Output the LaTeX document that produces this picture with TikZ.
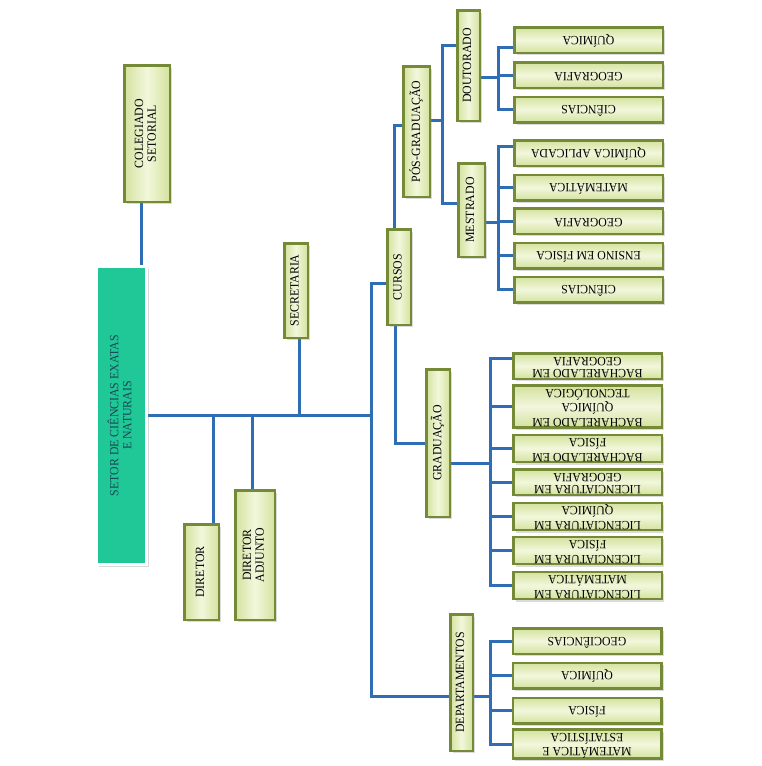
\documentclass[tikz,border=0pt]{standalone}
\usepackage{fontspec}
\setmainfont[FakeStretch=0.94]{Liberation Serif}
\usetikzlibrary{shadows}
\pgfdeclarelayer{bg}
\pgfsetlayers{bg,main}
\definecolor{connc}{HTML}{2F6EB5}
\definecolor{olivec}{HTML}{758A36}
\definecolor{boxA}{HTML}{D4E29E}
\definecolor{boxB}{HTML}{F2F7DC}
\definecolor{mainteal}{HTML}{1FC896}
\definecolor{maintxt}{HTML}{1B4556}
\newcommand{\vtxt}[1]{\rotatebox{90}{\begin{tabular}{@{}c@{}}#1\end{tabular}}}
\newcommand{\utxt}[1]{\rotatebox{180}{\begin{tabular}{@{}c@{}}#1\end{tabular}}}
\tikzset{
  box/.style={draw=olivec, line width=2.5pt, inner sep=0pt,
    font=\fontsize{12.6}{12.6}\selectfont,
    drop shadow={shadow xshift=2.5pt, shadow yshift=-2.5pt, opacity=0.28}},
  vbox/.style={box, left color=boxA, right color=boxA, middle color=boxB},
  leaf/.style={box, top color=boxA, bottom color=boxA, middle color=boxB,
    minimum width=148.5pt, minimum height=25.5pt},
  mainbox/.style={draw=white, line width=3pt, fill=mainteal, inner sep=0pt,
    text=maintxt, font=\fontsize{12.6}{13}\selectfont,
    drop shadow={shadow xshift=2.5pt, shadow yshift=-2.5pt, opacity=0.3}},
  conline/.style={draw=connc, line width=3pt}
}
\begin{document}
\begin{tikzpicture}[x=1pt,y=-1pt]
\useasboundingbox (0,0) rectangle (761,766);
% main boxes
\node[mainbox, minimum width=50pt, minimum height=298pt] (setor) at (121.5,415.5) {\vtxt{SETOR DE CIÊNCIAS EXATAS\\E NATURAIS}};
\node[vbox, minimum width=45.5pt, minimum height=136.5pt] (coleg) at (147,133.5) {\vtxt{COLEGIADO\\SETORIAL}};
\node[vbox, minimum width=34.5pt, minimum height=95.5pt] (diretor) at (201.5,572) {\vtxt{DIRETOR}};
\node[vbox, minimum width=39.5pt, minimum height=129.5pt] (adj) at (255,555) {\vtxt{DIRETOR\\ADJUNTO}};
\node[vbox, minimum width=23.5pt, minimum height=94.5pt] (secr) at (296,290.5) {\vtxt{SECRETARIA}};
\node[vbox, minimum width=23.5pt, minimum height=95.5pt] (cursos) at (399,277) {\vtxt{CURSOS}};
\node[vbox, minimum width=26.5pt, minimum height=130.5pt] (pos) at (416.5,131.5) {\vtxt{PÓS-GRADUAÇÃO}};
\node[vbox, minimum width=23.5pt, minimum height=147.5pt] (grad) at (438,443) {\vtxt{GRADUAÇÃO}};
\node[vbox, minimum width=22.5pt, minimum height=110.5pt] (dout) at (468.5,65.5) {\vtxt{DOUTORADO}};
\node[vbox, minimum width=26.5pt, minimum height=93.5pt] (mest) at (471.5,210) {\vtxt{MESTRADO}};
\node[vbox, minimum width=22.5pt, minimum height=136.5pt] (dep) at (461.5,682.5) {\vtxt{DEPARTAMENTOS}};
% doutorado leaves
\node[leaf] (d1) at (588.5,40) {\utxt{QUÍMICA}};
\node[leaf] (d2) at (588.5,75) {\utxt{GEOGRAFIA}};
\node[leaf] (d3) at (588.5,109.5) {\utxt{CIÊNCIAS}};
% mestrado leaves
\node[leaf] (m1) at (588.5,153) {\utxt{QUÍMICA APLICADA}};
\node[leaf] (m2) at (588.5,187.5) {\utxt{MATEMÁTICA}};
\node[leaf] (m3) at (588.5,221) {\utxt{GEOGRAFIA}};
\node[leaf] (m4) at (588.5,255.5) {\utxt{ENSINO EM FÍSICA}};
\node[leaf] (m5) at (588.5,289.5) {\utxt{CIÊNCIAS}};
% graduacao leaves
\node[leaf] (g1) at (587.5,366) {\utxt{BACHARELADO EM\\GEOGRAFIA}};
\node[leaf, minimum height=38.5pt] (g2) at (587.5,406.5) {\utxt{BACHARELADO EM\\QUÍMICA\\TECNOLÓGICA}};
\node[leaf] (g3) at (587.5,448.5) {\utxt{BACHARELADO EM\\FÍSICA}};
\node[leaf] (g4) at (587.5,482) {\utxt{LICENCIATURA EM\\GEOGRAFIA}};
\node[leaf] (g5) at (587.5,516.5) {\utxt{LICENCIATURA EM\\QUÍMICA}};
\node[leaf] (g6) at (587.5,550.5) {\utxt{LICENCIATURA EM\\FÍSICA}};
\node[leaf] (g7) at (587.5,585.5) {\utxt{LICENCIATURA EM\\MATEMÁTICA}};
% departamentos leaves
\node[leaf] (e1) at (587,641) {\utxt{GEOCIÊNCIAS}};
\node[leaf] (e2) at (587,675.5) {\utxt{QUÍMICA}};
\node[leaf] (e3) at (587,710.5) {\utxt{FÍSICA}};
\node[leaf] (e4) at (587,744) {\utxt{MATEMÁTICA E\\ESTATÍSTICA}};
% junction coordinates
\coordinate (tr) at (371,415);
\coordinate (pj) at (442,120);
\coordinate (dj) at (498,77);
\coordinate (mj) at (498,222);
\coordinate (gj) at (490,463);
\coordinate (ej) at (490,696);
\begin{pgfonlayer}{bg}
\fill[white] (0,0) rectangle (761,766);
\draw[conline] ([xshift=-6pt]coleg.south) -- ([xshift=-6pt]coleg.south |- setor.north);
\draw[conline] (setor.east |- tr) -- (tr);
\draw[conline] ([xshift=11.5pt]diretor.north) -- ([xshift=11.5pt]diretor.north |- tr);
\draw[conline] ([xshift=-3pt]adj.north) -- ([xshift=-3pt]adj.north |- tr);
\draw[conline] ([xshift=3pt]secr.south) -- ([xshift=3pt]secr.south |- tr);
\draw[conline] ([yshift=-6pt]cursos.west) -| (tr) |- ([yshift=-13.5pt]dep.west);
\draw[conline] ([xshift=-5pt]cursos.north) |- ([yshift=6.5pt]pos.west);
\draw[conline] ([xshift=-4pt]cursos.south) |- (grad.west);
\draw[conline] (pos.east |- pj) -- (pj);
\draw[conline] ([yshift=20.5pt]dout.west) -| (pj) |- ([yshift=7pt]mest.west);
% doutorado
\draw[conline] (dout.east |- dj) -- (dj);
\draw[conline] ([yshift=-7pt]d1.west) -| (dj) |- (d3.west);
\draw[conline] (dj |- d2.west) -- (d2.west);
% mestrado
\draw[conline] (mest.east |- mj) -- (mj);
\draw[conline] ([yshift=7pt]m1.west) -| (mj) |- (m5.west);
\draw[conline] (mj |- m2.west) -- (m2.west);
\draw[conline] (mj |- m3.west) -- (m3.west);
\draw[conline] (mj |- m4.west) -- (m4.west);
% graduacao
\draw[conline] (grad.east |- gj) -- (gj);
\draw[conline] ([yshift=8pt]g1.west) -| (gj) |- (g7.west);
\foreach \n in {g2,g3,g4,g5,g6} \draw[conline] (gj |- \n.west) -- (\n.west);
% departamentos
\draw[conline] (dep.east |- ej) -- (ej);
\draw[conline] (e1.west) -| (ej) |- (e4.west);
\draw[conline] (ej |- e2.west) -- (e2.west);
\draw[conline] (ej |- e3.west) -- (e3.west);
\end{pgfonlayer}
\end{tikzpicture}
\end{document}
